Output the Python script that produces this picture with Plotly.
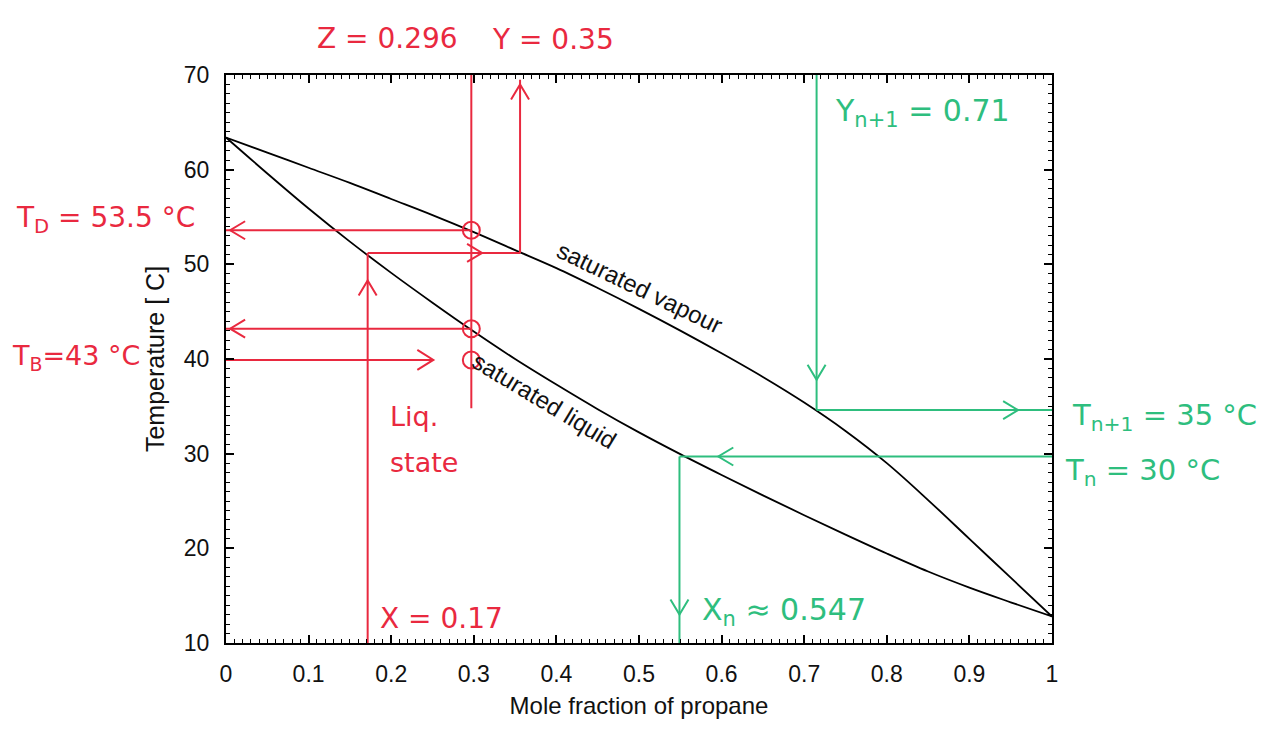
import plotly.graph_objects as go

# ---------------- data ----------------
x_grid = [0, 0.05, 0.1, 0.15, 0.2, 0.25, 0.3, 0.35, 0.4, 0.45, 0.5,
          0.55, 0.6, 0.65, 0.7, 0.75, 0.8, 0.85, 0.9, 0.95, 1.0]
T_vapour = [63.4, 61.8, 60.2, 58.6, 56.9, 55.2, 53.4, 51.5, 49.6, 47.5, 45.3,
            43.0, 40.6, 38.1, 35.4, 32.4, 29.0, 25.1, 21.0, 16.9, 12.8]
T_liquid = [63.4, 59.6, 55.9, 52.4, 49.1, 45.95, 42.9, 40.0, 37.3, 34.7, 32.25,
            29.95, 27.75, 25.6, 23.5, 21.45, 19.45, 17.55, 15.85, 14.3, 12.8]

# red construction (bubble / dew point of feed)
z_feed = 0.297
T_dew = 53.6
T_bub = 43.2
T_feed = 39.9
x_liq = 0.1715
y_vap = 0.356
T_tie = 51.2
T_zline_low = 34.8
T_yvap_top = 69.5
x_feed_tip = 0.251

# green construction (stage n / n+1)
y_n1 = 0.715
T_n1 = 34.6
T_n = 29.7
x_n = 0.549

x_ticks = [0, 0.1, 0.2, 0.3, 0.4, 0.5, 0.6, 0.7, 0.8, 0.9, 1.0]
y_ticks = [10, 20, 30, 40, 50, 60, 70]

RED = "#E9293F"
GREEN = "#2EBE7E"
HAND = "DejaVu Sans"
SANS = "Liberation Sans, Arial, sans-serif"

# ---------------- geometry helpers ----------------
W, H = 1288, 730
ML, MR, MT, MB = 218, 244, 67, 95   # page has an 8px body margin
XR = (0, 1)
YR = (10, 70)
px_x = (W - ML - MR) / (XR[1] - XR[0])
px_y = (H - MT - MB) / (YR[1] - YR[0])


def vhead(x, y, direction, length=15, half=9):
    """open V arrow head with tip at (x, y)"""
    dx_l, dy_l = length / px_x, length / px_y
    dx_h, dy_h = half / px_x, half / px_y
    if direction == "up":
        return [x - dx_h, x, x + dx_h, None], [y - dy_l, y, y - dy_l, None]
    if direction == "down":
        return [x - dx_h, x, x + dx_h, None], [y + dy_l, y, y + dy_l, None]
    if direction == "left":
        return [x + dx_l, x, x + dx_l, None], [y + dy_h, y, y - dy_h, None]
    return [x - dx_l, x, x - dx_l, None], [y + dy_h, y, y - dy_h, None]


def segs(lst):
    xs, ys = [], []
    for (x0, y0, x1, y1) in lst:
        xs += [x0, x1, None]
        ys += [y0, y1, None]
    return xs, ys


fig = go.Figure()

# phase curves
for Tc in (T_vapour, T_liquid):
    fig.add_trace(go.Scatter(x=x_grid, y=Tc, mode="lines",
                             line=dict(color="black", width=1.8, shape="spline", smoothing=1),
                             hoverinfo="skip", showlegend=False))

# red lines
red_lines = [
    (z_feed, T_zline_low, z_feed, YR[1]),
    (y_vap, T_tie, y_vap, T_yvap_top),
    (x_liq, T_tie, y_vap, T_tie),
    (x_liq, YR[0], x_liq, T_tie),
    (XR[0], T_dew, z_feed, T_dew),
    (XR[0], T_bub, z_feed, T_bub),
    (XR[0], T_feed, x_feed_tip, T_feed),
]
rx, ry = segs(red_lines)
red_heads = [
    vhead(y_vap, 69.0, "up"),
    vhead(0.31, T_tie, "right"),
    vhead(x_liq, 48.3, "up"),
    vhead(0.005, T_dew, "left"),
    vhead(0.005, T_bub, "left"),
    vhead(x_feed_tip, T_feed, "right", length=16, half=10),
]
for hx, hy in red_heads:
    rx += hx
    ry += hy
fig.add_trace(go.Scatter(x=rx, y=ry, mode="lines", line=dict(color=RED, width=2),
                         hoverinfo="skip", showlegend=False))
fig.add_trace(go.Scatter(x=[z_feed, z_feed, z_feed], y=[T_dew, T_bub, T_feed], mode="markers",
                         marker=dict(symbol="circle-open", size=17, color=RED, line=dict(width=2)),
                         hoverinfo="skip", showlegend=False))

# green lines
green_lines = [
    (y_n1, YR[1], y_n1, T_n1),
    (y_n1, T_n1, XR[1], T_n1),
    (XR[1], T_n, x_n, T_n),
    (x_n, T_n, x_n, YR[0]),
]
gx, gy = segs(green_lines)
green_heads = [
    vhead(y_n1, 37.8, "down"),
    vhead(0.959, T_n1, "right"),
    vhead(0.596, T_n, "left"),
    vhead(x_n, 13.0, "down"),
]
for hx, hy in green_heads:
    gx += hx
    gy += hy
fig.add_trace(go.Scatter(x=gx, y=gy, mode="lines", line=dict(color=GREEN, width=2),
                         hoverinfo="skip", showlegend=False))

# ---------------- annotations ----------------
ann = []
ann.append(dict(x=0.501, y=47.6, xref="x", yref="y", text="saturated vapour", showarrow=False,
                textangle=25.7, font=dict(family=SANS, size=24, color="#111")))
ann.append(dict(x=0.385, y=35.6, xref="x", yref="y", text="saturated liquid", showarrow=False,
                textangle=31, font=dict(family=SANS, size=24, color="#111")))


def hand(x, y, text, color, xanchor, xref="paper", yref="paper", size=28):
    return dict(x=x, y=y, xref=xref, yref=yref, text=text, showarrow=False,
                xanchor=xanchor, yanchor="middle",
                font=dict(family=HAND, size=size, color=color))


ann.append(hand(0.1077, 1.065, "Z = 0.296", RED, "left"))
ann.append(hand(0.3196, 1.062, "Y = 0.35", RED, "left"))
ann.append(hand(-0.0351, 0.745, "T<sub>D</sub> = 53.5 °C", RED, "right"))
ann.append(hand(-0.2615, 0.5035, "T<sub>B</sub>=43 °C", RED, "left", size=27))
ann.append(hand(0.196, 33.9, "Liq.", RED, "left", xref="x", yref="y", size=27))
ann.append(hand(0.196, 29.1, "state", RED, "left", xref="x", yref="y", size=27))
ann.append(hand(0.184, 12.6, "X = 0.17", RED, "left", xref="x", yref="y"))
ann.append(hand(0.574, 13.3, "X<sub>n</sub> ≈ 0.547", GREEN, "left", xref="x", yref="y", size=30))
ann.append(hand(0.735, 66.0, "Y<sub>n+1</sub> = 0.71", GREEN, "left", xref="x", yref="y", size=30))
ann.append(hand(1.0218, 0.398, "T<sub>n+1</sub> = 35 °C", GREEN, "left", size=29))
ann.append(hand(1.0133, 0.301, "T<sub>n</sub> = 30 °C", GREEN, "left", size=29))

axis_common = dict(
    showgrid=False, zeroline=False, showline=True, linecolor="black", linewidth=2,
    mirror="allticks", ticks="inside", ticklen=8, tickwidth=1.6, tickcolor="black",
    tickfont=dict(family=SANS, size=23, color="#111"),
)

fig.update_layout(
    width=W, height=H,
    margin=dict(l=ML, r=MR, t=MT, b=MB),
    paper_bgcolor="white", plot_bgcolor="white",
    annotations=ann,
    xaxis=dict(range=list(XR), tickvals=x_ticks, ticktext=[f"{v:g}" for v in x_ticks],
               minor=dict(dtick=0.01, ticks="inside", ticklen=4, tickwidth=1.2, tickcolor="black"),
               ticklabelstandoff=9,
               title=dict(text="Mole fraction of propane", standoff=12,
                          font=dict(family=SANS, size=24, color="#111")),
               **axis_common),
    yaxis=dict(range=list(YR), tickvals=y_ticks,
               minor=dict(dtick=1, ticks="inside", ticklen=4, tickwidth=1.2, tickcolor="black"),
               ticklabelstandoff=10,
               title=dict(text="Temperature [ C]", standoff=12,
                          font=dict(family=SANS, size=25, color="#111")),
               **axis_common),
)

fig.write_html("out.html")
